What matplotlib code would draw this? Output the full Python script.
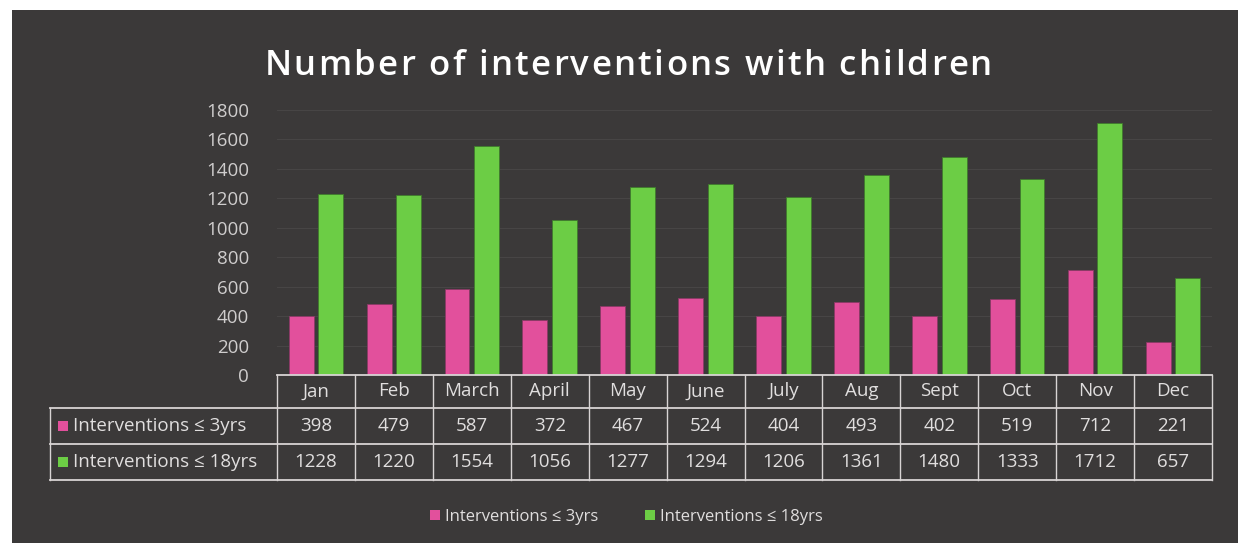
import numpy as np
import matplotlib.pyplot as plt
from matplotlib.lines import Line2D
from matplotlib.patches import Rectangle

# Data
months = ["Jan", "Feb", "March", "April", "May", "June",
          "July", "Aug", "Sept", "Oct", "Nov", "Dec"]
under_3 = [398, 479, 587, 372, 467, 524, 404, 493, 402, 519, 712, 221]
under_18 = [1228, 1220, 1554, 1056, 1277, 1294, 1206, 1361, 1480, 1333, 1712, 657]
series_names = ["Interventions \u2264 3yrs", "Interventions \u2264 18yrs"]
y_ticks = [0, 200, 400, 600, 800, 1000, 1200, 1400, 1600, 1800]
title = "Number of interventions with children"

PINK = "#e2509c"
GREEN = "#6ccd45"
BG = "#3b3939"
TXT = "#e0dede"
LINE = "#d8d4d4"

W, H = 1243, 550
plt.rcParams['font.family'] = ['Open Sans', 'DejaVu Sans']


def fx(x):
    return x / W


def fy(y):
    return 1 - y / H


fig = plt.figure(figsize=(W / 100, H / 100), dpi=100, facecolor="white")

# dark chart panel
fig.add_artist(Rectangle((fx(12), fy(543)), fx(1238) - fx(12), fy(10) - fy(543),
                         transform=fig.transFigure, facecolor=BG, edgecolor="none", zorder=0))

# layout in pixels
x0, x1 = 277, 1212
y_top, y_base = 110, 375
cw = (x1 - x0) / len(months)

ax = fig.add_axes([fx(x0), fy(y_base), fx(x1) - fx(x0), fy(y_top) - fy(y_base)])
ax.set_facecolor("none")
ax.set_xlim(-0.5, len(months) - 0.5)
ax.set_ylim(0, 1800)

x = np.arange(len(months))
w = 0.32
ax.bar(x - 0.19, under_3, width=w, color=PINK, edgecolor="#8a3a66", linewidth=0.6,
       label=series_names[0], zorder=3)
ax.bar(x + 0.19, under_18, width=w, color=GREEN, edgecolor="#3f7a2c", linewidth=0.6,
       label=series_names[1], zorder=3)

ax.set_yticks(y_ticks)
ax.set_yticklabels([str(v) for v in y_ticks])
ax.tick_params(axis="y", length=0, pad=20, labelsize=13.5, labelcolor="#cfcdcd")
ax.set_xticks([])
ax.grid(axis="y", color="#474545", linewidth=0.8, zorder=0)
for s in ax.spines.values():
    s.set_visible(False)

# Title, drawn with a little extra letter spacing
fs_title = 25
track = 2.3
renderer = fig.canvas.get_renderer()


def text_w(s):
    t = fig.text(0, 0, s + "|", fontsize=fs_title, fontweight="semibold")
    wd = t.get_window_extent(renderer).width
    t.remove()
    return wd


bar_w = text_w("")
prefix = [text_w(title[:i]) - bar_w for i in range(len(title))]
total = text_w(title) - bar_w + (len(title) - 1) * track
start = 628 - total / 2
for i, ch in enumerate(title):
    if ch != " ":
        fig.text(fx(start + prefix[i] + i * track), fy(75), ch, ha="left", va="baseline",
                 fontsize=fs_title, color="white", fontweight="semibold")

# Data table below the axis
lx = 50
row_y = [y_base, 408, 444, 480]


def hline(xa, xb, y):
    fig.add_artist(Line2D([fx(xa), fx(xb)], [fy(y), fy(y)], color=LINE, lw=1.3,
                          transform=fig.transFigure))


def vline(xx, ya, yb):
    fig.add_artist(Line2D([fx(xx), fx(xx)], [fy(ya), fy(yb)], color=LINE, lw=1.0,
                          transform=fig.transFigure))


hline(x0, x1, row_y[0])
for yy in row_y[1:]:
    hline(lx, x1, yy)
vline(lx, row_y[1], row_y[3])
for i in range(len(months) + 1):
    vline(x0 + i * cw, row_y[0], row_y[3])

fs_tab = 13.5
for i, m in enumerate(months):
    cx = x0 + (i + 0.5) * cw
    fig.text(fx(cx), fy((row_y[0] + row_y[1]) / 2), m, ha="center", va="center",
             fontsize=fs_tab, color=TXT)
    fig.text(fx(cx), fy((row_y[1] + row_y[2]) / 2), str(under_3[i]), ha="center", va="center",
             fontsize=fs_tab, color=TXT)
    fig.text(fx(cx), fy((row_y[2] + row_y[3]) / 2), str(under_18[i]), ha="center", va="center",
             fontsize=fs_tab, color=TXT)

for r, (name, col) in enumerate(zip(series_names, [PINK, GREEN])):
    cy = (row_y[r + 1] + row_y[r + 2]) / 2
    fig.add_artist(Rectangle((fx(58), fy(cy + 5)), fx(10), fy(0) - fy(10),
                             transform=fig.transFigure, facecolor=col, edgecolor="none"))
    fig.text(fx(73), fy(cy), name, ha="left", va="center", fontsize=fs_tab, color=TXT)

# Legend
handles, labels = ax.get_legend_handles_labels()
leg = fig.legend(handles, labels, loc="center", bbox_to_anchor=(fx(626), fy(517)), ncol=2,
                 frameon=False, fontsize=12, handlelength=0.6, handleheight=0.6,
                 handletextpad=0.3, columnspacing=2.8)
for t in leg.get_texts():
    t.set_color(TXT)
for h in leg.legend_handles:
    h.set_edgecolor("none")

fig.savefig("out.png", dpi=100, facecolor="white")
